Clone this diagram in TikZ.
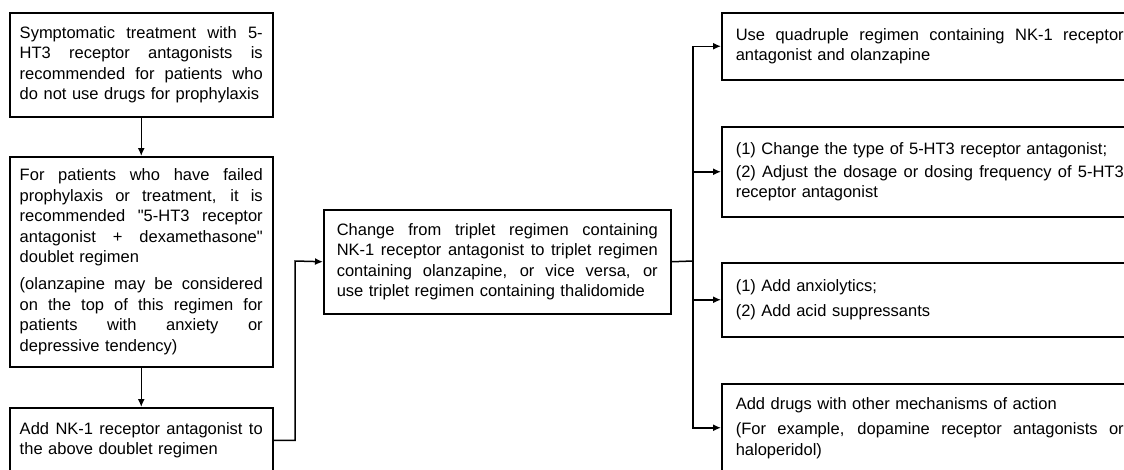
\documentclass[tikz,border=0pt]{standalone}
\usepackage{fontspec}
\setmainfont{Liberation Sans}[Ligatures=TeXOff]
\usetikzlibrary{arrows.meta}
\setlength{\parindent}{0pt}
\DeclareRobustCommand{\boxfont}{\fontsize{16.5}{20.5}\selectfont\spaceskip=0pt\relax}
\newcommand{\fullline}[1]{\makebox[\hsize][s]{\spaceskip=0pt\relax #1}\par}
\newcommand{\pargap}[1]{\par\vspace{#1}}
\begin{document}
\begin{tikzpicture}[x=1pt,y=-1pt,line width=1.5pt,>={Latex[length=8pt,width=7pt]},
        box/.style={draw,anchor=north west,inner xsep=10pt,inner ysep=0pt,font=\boxfont}]
        \useasboundingbox (0,0) rectangle (1124,469);
        \clip (0,0) rectangle (1124,469);
        \node[box,text width=243pt,minimum height=104pt] (b1) at (9,12)
            {\fullline{Symptomatic treatment with 5-}\fullline{HT3 receptor antagonists is}\fullline{recommended for patients who}do not use drugs for prophylaxis};
        \node[box,text width=243pt,minimum height=210pt] (b2) at (9,156)
            {\fullline{For patients who have failed}\fullline{prophylaxis or treatment, it is}\fullline{recommended "5-HT3 receptor}\fullline{antagonist + dexamethasone"}doublet regimen\pargap{6.5pt}\fullline{(olanzapine may be considered}\fullline{on the top of this regimen for}\fullline{patients with anxiety or}depressive tendency)};
        \node[box,text width=243pt,minimum height=65pt] (b3) at (9,407)
            {\fullline{Add NK-1 receptor antagonist to}the above doublet regimen};
        \node[box,inner xsep=13pt,text width=321pt,minimum height=104pt] (mid) at (323,209)
            {\fullline{Change from triplet regimen containing}\fullline{NK-1 receptor antagonist to triplet regimen}\fullline{containing olanzapine, or vice versa, or}use triplet regimen containing thalidomide};
        \node[box,inner xsep=14pt,text width=388pt,minimum height=67pt] (rb1) at (721,12)
            {\fullline{Use quadruple regimen containing NK-1 receptor}antagonist and olanzapine};
        \node[box,inner xsep=14pt,text width=388pt,minimum height=90pt] (rb2) at (721,126)
            {(1) Change the type of 5-HT3 receptor antagonist;\pargap{2pt}\fullline{(2) Adjust the dosage or dosing frequency of 5-HT3}receptor antagonist};
        \node[box,inner xsep=14pt,text width=388pt,minimum height=74pt] (rb3) at (721,262)
            {(1) Add anxiolytics;\pargap{4pt}(2) Add acid suppressants};
        \node[box,inner xsep=14pt,text width=388pt,minimum height=88pt] (rb4) at (721,383)
            {Add drugs with other mechanisms of action\pargap{5pt}\fullline{(For example, dopamine receptor antagonists or}haloperidol)};
        \draw[->] (b1.south) -- (b2.north);
        \draw[->] (b2.south) -- (b3.north);
        \coordinate (join) at (295,261);
        \draw[->] (b3.east) -| (join) -- (mid.west);
        \coordinate (split) at (693,261);
        \draw (mid.east) -- (split);
        \foreach \n in {rb1,rb2,rb3,rb4}
            \draw[->] (split) |- (\n.west);
    \end{tikzpicture}
\end{document}
